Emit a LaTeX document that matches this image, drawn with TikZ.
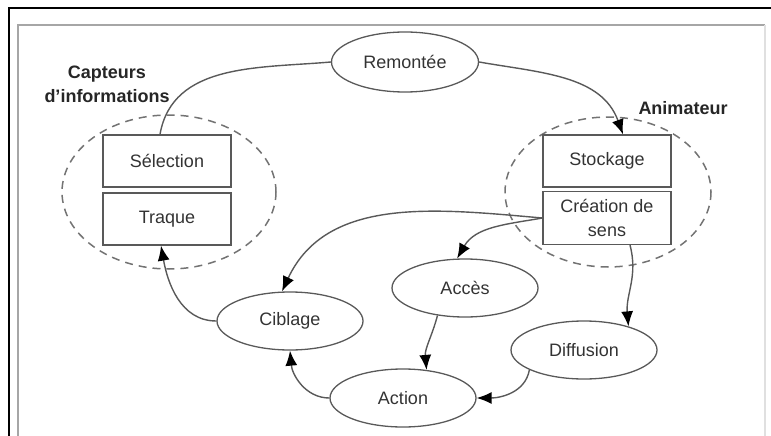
\documentclass[tikz,border=0pt]{standalone}
\usepackage{fontspec}
\setmainfont{Liberation Sans}
\usetikzlibrary{shapes.geometric,arrows.meta}

\begin{document}
\begin{tikzpicture}[x=1pt,y=-1pt,
    bulle/.style={ellipse,draw=black!65,line width=1.3pt,minimum width=146pt,minimum height=58pt,inner sep=0pt,text=black!80,font=\fontsize{18}{22}\selectfont},
    boite/.style={rectangle,draw=black!65,line width=1.3pt,minimum width=128pt,minimum height=52pt,inner sep=0pt,align=center,text=black!80,font=\fontsize{18}{24}\selectfont},
    groupe/.style={draw=black!55,line width=1.5pt,dash pattern=on 8pt off 6pt},
    titre/.style={font=\bfseries\fontsize{18}{24}\selectfont,align=center,text=black!85},
    lien/.style={draw=black!65,line width=1.4pt},
    fleche/.style={lien,-{Latex[length=15pt,width=12pt,color=black]}}]
    \useasboundingbox (0,0) rectangle (771,436);
    % frames
        \draw[black,line width=2.5pt] (9,436) -- (9,8) -- (771,8);
        \draw[black!35,line width=2.5pt] (18,436) -- (18,25) -- (765,25);
        \draw[black!12,line width=1.5pt] (765,25) -- (765,436);
    % groups
        \draw[groupe] (169,192) ellipse [x radius=107, y radius=77];
        \draw[groupe] (608,192) ellipse [x radius=103, y radius=75];
        \node[titre] (capteurs) at (107,84) {Capteurs\\d'informations};
        \node[titre] (animateur) at (683,108) {Animateur};
    % boxes
        \node[boite] (selection) at (167,161) {Sélection};
        \node[boite] (traque) at (167,219) {Traque};
        \node[boite] (stockage) at (607,161) {Stockage};
        \node[boite,minimum height=53pt] (creation) at (607,218) {Création de\\sens};
    % activities
        \node[bulle,minimum width=147pt,minimum height=60pt] (remontee) at (405,62) {Remontée};
        \node[bulle] (acces) at (465,288) {Accès};
        \node[bulle] (ciblage) at (290,321) {Ciblage};
        \node[bulle] (diffusion) at (584,350) {Diffusion};
        \node[bulle] (action) at (403,398) {Action};
    % cycle
        \draw[lien] ([xshift=-7pt]selection.north) to[out=80,in=185] (remontee.west);
        \draw[fleche] (remontee.east) to[out=-10,in=110] ([xshift=16pt]stockage.north);
        \draw[fleche] (creation.west) to[out=190,in=60] (acces.105);
        \draw[fleche] (creation.west) to[out=175,in=65] ([xshift=-8pt]ciblage.north);
        \draw[fleche] ([xshift=23pt]creation.south) to[out=-75,in=95] (diffusion.28);
        \draw[fleche] (acces.225) to[out=-105,in=95] (action.50);
        \draw[fleche] (diffusion.200) to[out=-100,in=0] (action.east);
        \draw[fleche] (action.west) to[out=180,in=-85] (ciblage.south);
        \draw[fleche] (ciblage.west) to[out=180,in=-80] ([xshift=-6pt]traque.south);
\end{tikzpicture}
\end{document}
